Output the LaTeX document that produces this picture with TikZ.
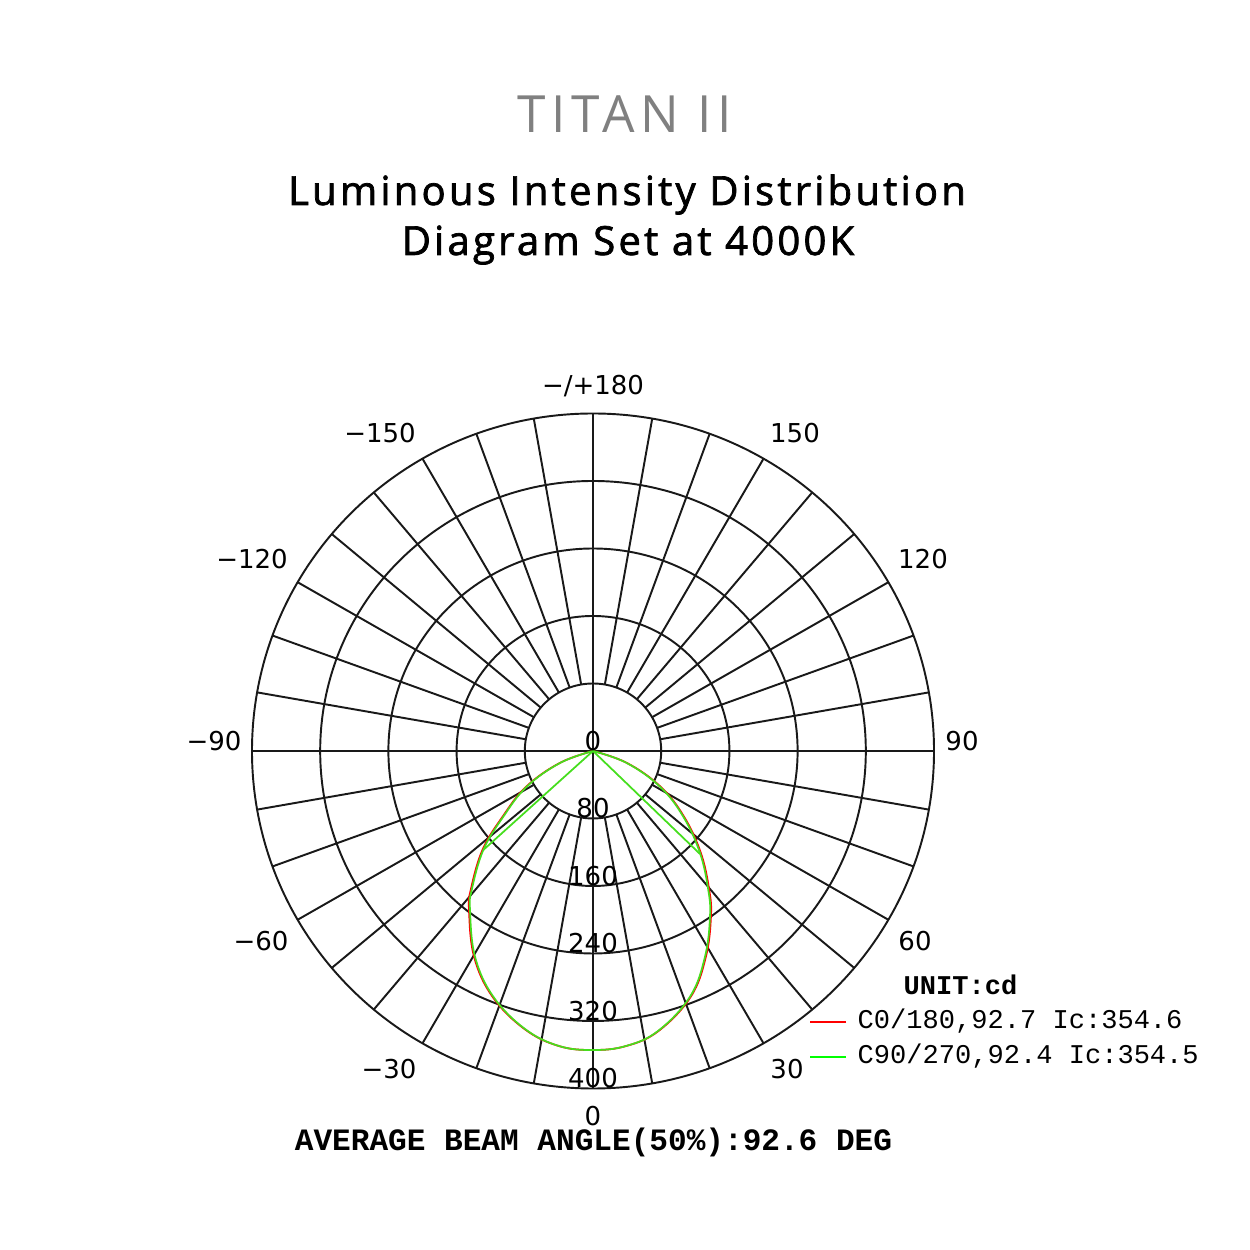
\documentclass[tikz,border=0pt]{standalone}
\usepackage{fontspec}
\setmainfont{Open Sans}
\newfontfamily\titlefont[LetterSpace=11]{Open Sans}
\newfontfamily\subfont[LetterSpace=8,FakeBold=1.8]{Open Sans}
\newfontfamily\anglefont{DejaVu Sans}
\newfontfamily\monofont{Liberation Mono}
\definecolor{titlegray}{HTML}{808080}
\definecolor{curvegreen}{RGB}{70,222,30}

\begin{document}
\begin{tikzpicture}[
  gridline/.style={line width=0.55pt,black!90},
  curve/.style={line width=0.5pt},
  lbl/.style={font=\anglefont\fontsize{7.4}{9}\selectfont,inner sep=0pt},
  mono/.style={font=\monofont\fontsize{7.7}{9}\selectfont,inner sep=0pt,anchor=base west}]
\useasboundingbox (0,0) rectangle (12.5,12.5);
\coordinate (O) at (5.93,4.99);

% heading
\node[titlegray,font=\titlefont\fontsize{14.6}{17}\selectfont,anchor=base] (title) at (6.25,11.17) {TITAN II};
\node[font=\subfont\fontsize{11.4}{14}\selectfont,anchor=base] (sub1) at (6.27,10.45) {Luminous Intensity Distribution};
\node[font=\subfont\fontsize{11.4}{14}\selectfont,anchor=base] (sub2) at (6.28,9.95) {Diagram Set at 4000K};

% polar grid
\begin{scope}[shift={(O)},xscale=1.0104]
  \foreach \r in {1,...,5}
    \draw[gridline] (0,0) circle [radius={0.675*\r}];
  \foreach \a in {0,10,...,350}
    \draw[gridline] (\a:0.675) -- (\a:3.375);
  \draw[gridline] (-3.375,0) -- (3.375,0);
  \draw[gridline] (0,-3.375) -- (0,3.375);
\end{scope}

% curves
\begin{scope}[shift={(O)}]
  \draw[curve,red,xscale=1.008] plot[smooth,tension=0.65] coordinates {(0,0) (-0.33,-0.12) (-0.663,-0.357) (-0.897,-0.657) (-1.097,-0.99) (-1.213,-1.39) (-1.23,-1.59) (-1.18,-2.057) (-0.997,-2.457) (-0.68,-2.78) (-0.34,-2.95) (0,-2.99) (0.33,-2.95) (0.65,-2.8) (0.97,-2.457) (1.12,-2.057) (1.17,-1.657) (1.153,-1.39) (1.07,-1.02) (0.903,-0.657) (0.67,-0.357) (0.337,-0.12) (0,0)};
  \draw[curve,curvegreen] plot[smooth,tension=0.65] coordinates {(0,0) (-0.33,-0.12) (-0.663,-0.357) (-0.897,-0.657) (-1.097,-0.99) (-1.213,-1.39) (-1.23,-1.59) (-1.18,-2.057) (-0.997,-2.457) (-0.68,-2.78) (-0.34,-2.95) (0,-2.99) (0.33,-2.95) (0.65,-2.8) (0.97,-2.457) (1.12,-2.057) (1.17,-1.657) (1.153,-1.39) (1.07,-1.02) (0.903,-0.657) (0.67,-0.357) (0.337,-0.12) (0,0)};
  \coordinate (kinkL) at (-1.097,-0.99);
  \coordinate (kinkR) at (1.07,-1.03);
\end{scope}
\draw[curve,curvegreen] (kinkL) -- (O) -- (kinkR);

% ring values
\foreach \v [count=\i from 0] in {0,80,160,240,320,400}
  \node[lbl] (ring\i) at (5.93,{5.09-0.675*\i}) {\v};

% angle values
\node[lbl] (ang180) at (5.93,8.64) {−/+180};
\foreach \t/\x/\y [count=\k] in {150/7.95/8.17,−150/3.80/8.17,120/9.23/6.91,−120/2.52/6.91,90/9.62/5.09,−90/2.14/5.09,60/9.15/3.09,−60/2.61/3.09,30/7.87/1.81,−30/3.89/1.81,0/5.93/1.34}
  \node[lbl] (ang\k) at (\x,\y) {\t};

% legend
\node[mono,font=\monofont\bfseries\fontsize{7.7}{9}\selectfont] (unit) at (9.03,2.55) {UNIT:cd};
\node[mono] (leg1) at (8.57,2.21) {C0/180,92.7 Ic:354.6};
\node[mono] (leg2) at (8.57,1.86) {C90/270,92.4 Ic:354.5};
\draw[red,line width=0.6pt] ([xshift=-1.1mm]leg1.west) -- ++(-3.6mm,0);
\draw[green,line width=0.6pt] ([xshift=-1.1mm]leg2.west) -- ++(-3.6mm,0);

\node[font=\monofont\bfseries\fontsize{8.85}{10}\selectfont,inner sep=0pt,anchor=base] (beam) at (5.935,0.99) {AVERAGE BEAM ANGLE(50\%):92.6 DEG};
\end{tikzpicture}
\end{document}
